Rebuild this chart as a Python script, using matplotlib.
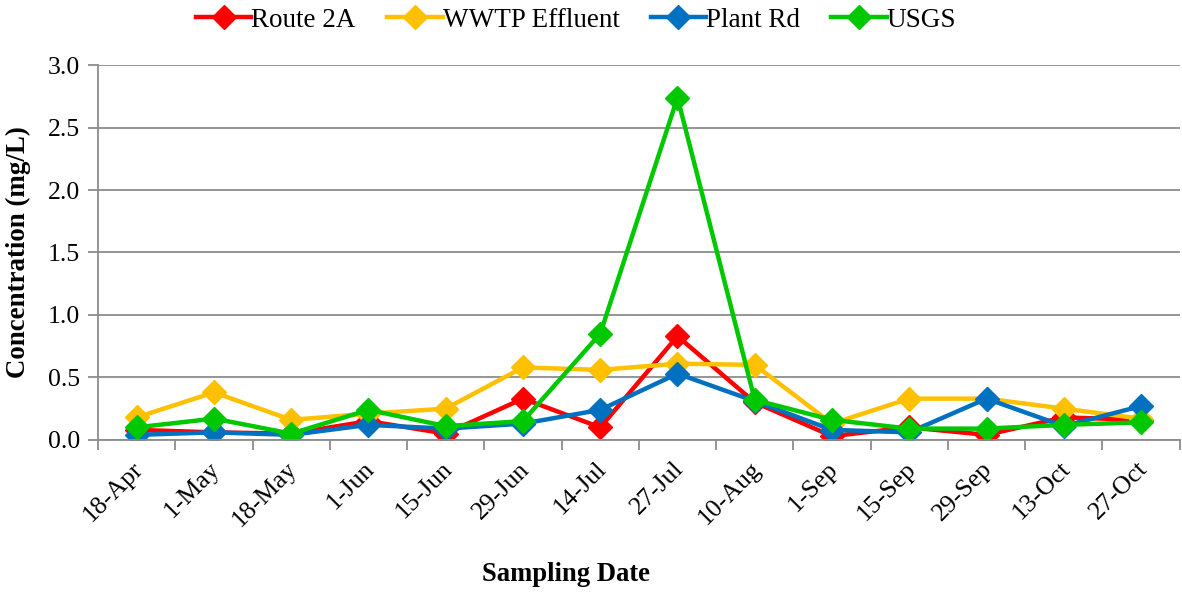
import numpy as np
import matplotlib.pyplot as plt
import matplotlib.transforms as mtransforms

plt.rcParams['font.family'] = ['Liberation Serif', 'DejaVu Serif']

dates = ['18-Apr', '1-May', '18-May', '1-Jun', '15-Jun', '29-Jun', '14-Jul',
         '27-Jul', '10-Aug', '1-Sep', '15-Sep', '29-Sep', '13-Oct', '27-Oct']

route_2a = [0.08, 0.06, 0.05, 0.15, 0.05, 0.33, 0.10, 0.83, 0.30, 0.03, 0.10, 0.04, 0.18, 0.16]
wwtp = [0.18, 0.38, 0.16, 0.21, 0.25, 0.58, 0.56, 0.61, 0.60, 0.13, 0.33, 0.33, 0.25, 0.17]
plant_rd = [0.04, 0.06, 0.04, 0.12, 0.09, 0.13, 0.24, 0.53, 0.31, 0.08, 0.06, 0.33, 0.11, 0.27]
usgs = [0.10, 0.17, 0.05, 0.24, 0.11, 0.15, 0.85, 2.74, 0.32, 0.16, 0.09, 0.09, 0.12, 0.14]

series = [('Route 2A', route_2a, '#FF0000'),
          ('WWTP Effluent', wwtp, '#FFC000'),
          ('Plant Rd', plant_rd, '#0070C0'),
          ('USGS', usgs, '#00C800')]

fig = plt.figure(figsize=(11.82, 5.92), dpi=100)
ax = fig.add_axes([0.083, 0.257, 0.915, 0.633])

x = np.arange(len(dates))
for name, vals, col in series:
    ax.plot(x, vals, color=col, lw=3.2, marker='D', markersize=12, label=name)

ax.set_xlim(-0.5, len(dates) - 0.5)
ax.set_ylim(0, 3.0)
yt = np.arange(0, 3.01, 0.5)
ax.set_yticks(yt)
ax.set_yticklabels([f'{v:.1f}' for v in yt], fontsize=18.5)
ax.yaxis.grid(True, color='#8c8c8c', lw=1.3)
ax.set_axisbelow(True)

# tick marks at category boundaries, labels at centres
ax.set_xticks(np.arange(-0.5, len(dates), 1.0))
ax.set_xticklabels([])
ax.set_xticks(x, minor=True)
ax.set_xticklabels(dates, minor=True, rotation=45, ha='right', rotation_mode='anchor', fontsize=18.5)
ax.tick_params(axis='x', which='major', length=7, color='#8c8c8c', width=1.3)
ax.tick_params(axis='x', which='minor', length=0, pad=13)
ax.tick_params(axis='y', length=7, color='#8c8c8c', width=1.3, pad=6)

# nudge date labels a little to the left
shift = mtransforms.ScaledTranslation(-5 / 100, 0, fig.dpi_scale_trans)
for lbl in ax.get_xticklabels(minor=True):
    lbl.set_transform(lbl.get_transform() + shift)

for s in ['top', 'right']:
    ax.spines[s].set_visible(False)
for s in ['left', 'bottom']:
    ax.spines[s].set_color('#8c8c8c')
    ax.spines[s].set_linewidth(1.3)

ax.set_ylabel('Concentration (mg/L)', fontsize=19.4, fontweight='bold')
ax.yaxis.set_label_coords(-0.062, 0.5)
fig.text(0.479, 0.029, 'Sampling Date', fontsize=19.2, fontweight='bold', ha='center', va='center')

ax.legend(loc='center', bbox_to_anchor=(0.442, 1.12), ncol=4, frameon=False,
          fontsize=19.5, handlelength=2.05, handletextpad=0.0, columnspacing=1.15,
          borderaxespad=0.0)

fig.savefig('out.png', dpi=100)
